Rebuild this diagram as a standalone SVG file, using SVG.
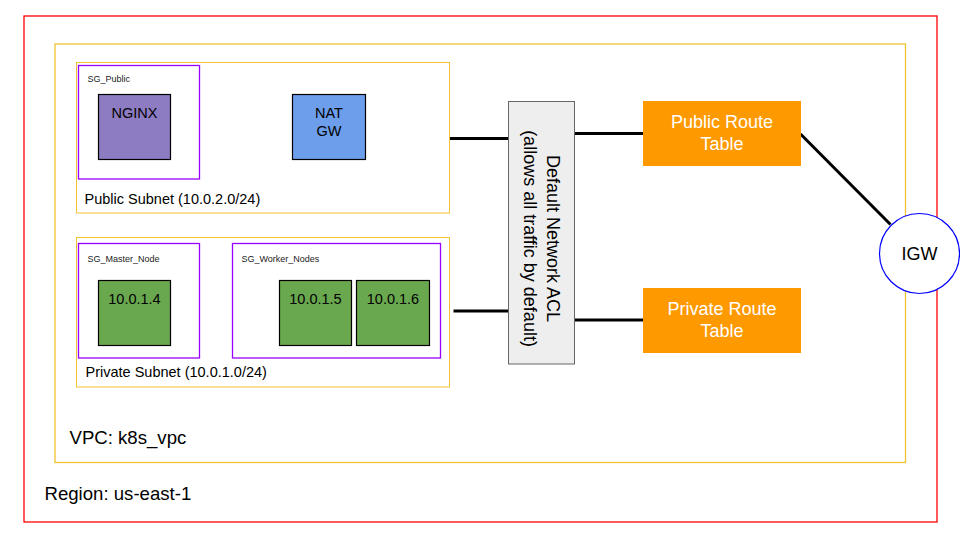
<svg xmlns="http://www.w3.org/2000/svg" width="960" height="540" viewBox="0 0 960 540">
  <style>
    text { font-family: "Liberation Sans", Arial, sans-serif; fill: #000000; }
    .region { fill: none; stroke: #ff0000; stroke-width: 1.3; }
    .vpc { fill: none; stroke: #f1c232; stroke-width: 1.3; }
    .subnet { fill: #ffffff; stroke: #f1c232; stroke-width: 1; }
    .sg { fill: #ffffff; stroke: #9900ff; stroke-width: 1.3; }
    .inst { stroke: #000000; stroke-width: 1.2; }
    .sg-label { font-size: 9px; fill: #222222; }
    .lbl14 { font-size: 14.5px; }
    .lbl18 { font-size: 18px; }
    .outer-label { font-size: 18.6px; }
    .rt { fill: #ff9900; stroke: none; }
    .rt-text { font-size: 18px; fill: #ffffff; text-anchor: middle; }
    .conn { stroke: #000000; stroke-width: 3; fill: none; }
  </style>

  <!-- Region -->
  <g id="region">
    <rect class="region" x="24" y="16" width="913" height="506"/>
    <text class="outer-label" x="44.5" y="500">Region: us-east-1</text>
  </g>

  <!-- VPC -->
  <g id="vpc">
    <rect class="vpc" x="55" y="44" width="850.5" height="418.5"/>
    <text class="outer-label" x="69.5" y="443.5">VPC: k8s_vpc</text>
  </g>

  <!-- Public subnet -->
  <g id="public-subnet">
    <rect class="subnet" x="76.5" y="62.5" width="373" height="150.5"/>
    <text class="lbl14" x="84.5" y="203.5">Public Subnet (10.0.2.0/24)</text>
  </g>
  <g id="sg-public">
    <rect class="sg" x="78.5" y="65.5" width="121" height="113.5"/>
    <text class="sg-label" x="87.5" y="82">SG_Public</text>
  </g>
  <g id="nginx">
    <rect class="inst" x="98.5" y="94.5" width="72" height="65" fill="#8e7cc3"/>
    <text class="lbl14" x="134.5" y="118" text-anchor="middle">NGINX</text>
  </g>
  <g id="nat-gw">
    <rect class="inst" x="292.5" y="94.5" width="73" height="65" fill="#6d9eeb"/>
    <text class="lbl14" x="329" y="118" text-anchor="middle">NAT</text>
    <text class="lbl14" x="329" y="136" text-anchor="middle">GW</text>
  </g>

  <!-- Private subnet -->
  <g id="private-subnet">
    <rect class="subnet" x="76.5" y="237.5" width="373" height="149.5"/>
    <text class="lbl14" x="85.5" y="376.5">Private Subnet (10.0.1.0/24)</text>
  </g>
  <g id="sg-master">
    <rect class="sg" x="78.5" y="243.5" width="121" height="114.5"/>
    <text class="sg-label" x="87.5" y="261.5">SG_Master_Node</text>
  </g>
  <g id="sg-workers">
    <rect class="sg" x="232.5" y="243.5" width="208" height="114.5"/>
    <text class="sg-label" x="241.5" y="261.5">SG_Worker_Nodes</text>
  </g>
  <g id="node-10-0-1-4">
    <rect class="inst" x="98.5" y="280.5" width="72" height="65" fill="#6aa84f"/>
    <text class="lbl14" x="134.5" y="304" text-anchor="middle">10.0.1.4</text>
  </g>
  <g id="node-10-0-1-5">
    <rect class="inst" x="279.5" y="280.5" width="72" height="65" fill="#6aa84f"/>
    <text class="lbl14" x="315.5" y="304" text-anchor="middle">10.0.1.5</text>
  </g>
  <g id="node-10-0-1-6">
    <rect class="inst" x="356.5" y="280.5" width="73" height="65" fill="#6aa84f"/>
    <text class="lbl14" x="393" y="304" text-anchor="middle">10.0.1.6</text>
  </g>

  <!-- Connectors -->
  <g id="connectors">
    <line class="conn" x1="450" y1="138.5" x2="508.5" y2="138.5"/>
    <line class="conn" x1="453.5" y1="311" x2="508.5" y2="311"/>
    <line class="conn" x1="574.5" y1="133.5" x2="643" y2="133.5"/>
    <line class="conn" x1="574.5" y1="320" x2="643" y2="320"/>
    <line class="conn" x1="800.5" y1="134" x2="890.5" y2="224.5"/>
  </g>

  <!-- Network ACL -->
  <g id="network-acl">
    <rect x="508.5" y="101.5" width="66" height="262.5" fill="#eeeeee" stroke="#666666" stroke-width="1"/>
    <g transform="translate(541.5 238.5) rotate(90)">
      <text class="lbl18" x="0" y="-5.5" text-anchor="middle">Default Network ACL</text>
      <text class="lbl18" x="0" y="18" text-anchor="middle">(allows all traffic by default)</text>
    </g>
  </g>

  <!-- Route tables -->
  <g id="public-route-table">
    <rect class="rt" x="643" y="101" width="158" height="65"/>
    <text class="rt-text" x="722" y="128">Public Route</text>
    <text class="rt-text" x="722" y="150">Table</text>
  </g>
  <g id="private-route-table">
    <rect class="rt" x="643" y="288" width="158" height="65"/>
    <text class="rt-text" x="722" y="315">Private Route</text>
    <text class="rt-text" x="722" y="337">Table</text>
  </g>

  <!-- Internet gateway -->
  <g id="igw">
    <circle cx="919.5" cy="253.5" r="40" fill="#ffffff" stroke="#0000ff" stroke-width="1.2"/>
    <text class="lbl18" x="919.5" y="260" text-anchor="middle">IGW</text>
  </g>
</svg>
